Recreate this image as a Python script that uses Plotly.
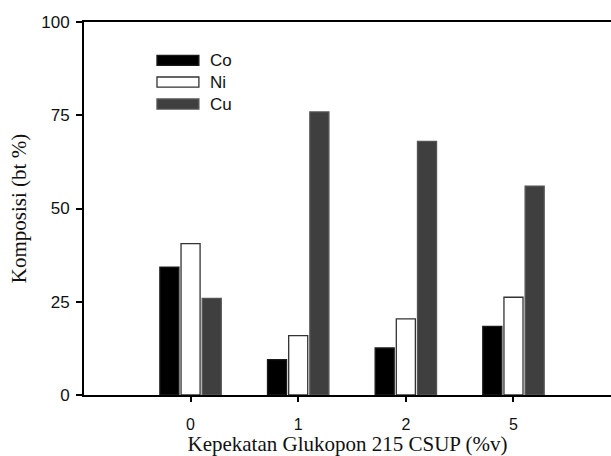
import plotly.graph_objects as go

categories = ["0", "1", "2", "5"]
series_names = ["Co", "Ni", "Cu"]
co_values = [34.3, 9.5, 12.6, 18.4]
ni_values = [40.6, 15.9, 20.4, 26.2]
cu_values = [25.9, 75.9, 68.0, 56.0]
y_tick_values = [0, 25, 50, 75, 100]
y_tick_labels = ["0", "25", "50", "75", "100"]
x_title = "Kepekatan Glukopon 215 CSUP (%v)"
y_title = "Komposisi (bt %)"

fill_colors = ["#000000", "#ffffff", "#3f3f3f"]
line_colors = ["#1a1a1a", "#333333", "#555555"]
series_values = [co_values, ni_values, cu_values]

fig = go.Figure()
for name, vals, fc, lc in zip(series_names, series_values, fill_colors, line_colors):
    fig.add_trace(go.Bar(
        name=name, x=categories, y=vals,
        marker=dict(color=fc, line=dict(color=lc, width=1.3)),
        showlegend=False,
    ))

# custom legend (long flat swatches like the reference)
legend_y = [0.897, 0.839, 0.780]
half_h = 0.0135
for name, fc, lc, yc in zip(series_names, fill_colors, line_colors, legend_y):
    fig.add_shape(type="rect", xref="paper", yref="paper",
                  x0=0.1385, x1=0.218, y0=yc - half_h, y1=yc + half_h,
                  fillcolor=fc, line=dict(color=lc, width=1.3))
    fig.add_annotation(xref="paper", yref="paper", x=0.236, y=yc,
                       text=name, showarrow=False, xanchor="left", yanchor="middle",
                       font=dict(family="Liberation Sans, Arial", size=17, color="#111"))

fig.update_layout(
    width=611, height=456,
    margin=dict(l=84, r=0, t=22, b=61),
    paper_bgcolor="white", plot_bgcolor="white",
    barmode="group", bargap=0.41, bargroupgap=0.1,
    showlegend=False,
)
fig.update_xaxes(
    type="category", range=[-0.99, 3.906], automargin=False,
    showline=True, linecolor="black", linewidth=2, mirror=True,
    ticks="outside", ticklen=5, tickwidth=1.5, tickcolor="black",
    tickfont=dict(family="Liberation Sans, Arial", size=16, color="#111"),
    ticklabelstandoff=9,
    showgrid=False, zeroline=False,
    title=dict(text=x_title, font=dict(family="Liberation Serif, Times New Roman", size=21, color="#111"),
               standoff=9),
)
fig.update_yaxes(
    range=[0, 100], tickvals=y_tick_values, ticktext=y_tick_labels, automargin=False,
    showline=True, linecolor="black", linewidth=2, mirror=False,
    ticks="outside", ticklen=6, tickwidth=1.5, tickcolor="black",
    tickfont=dict(family="Liberation Sans, Arial", size=17, color="#111"),
    ticklabelstandoff=3,
    showgrid=False, zeroline=False,
    title=dict(text=y_title, font=dict(family="Liberation Serif, Times New Roman", size=21, color="#111"),
               standoff=9),
)

# remove the page's default body margin and scrollbars so the figure fills the window exactly
fig.write_html(
    "out.html",
    config={"displayModeBar": False},
    post_script="document.body.style.margin='0';document.body.style.overflow='hidden';"
                "document.documentElement.style.overflow='hidden';",
)
